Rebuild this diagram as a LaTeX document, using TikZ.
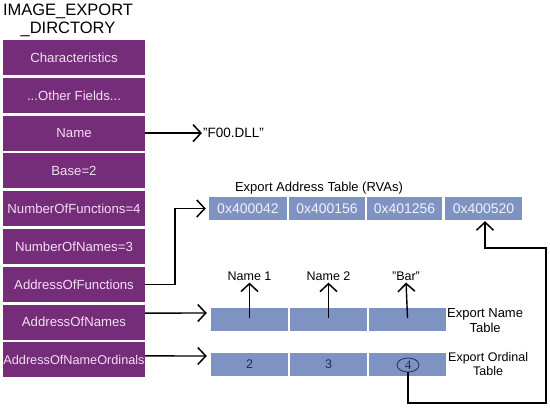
\documentclass[tikz,border=0pt]{standalone}
\usepackage{fontspec}
\setmainfont{Liberation Sans}
\newfontfamily\serifnum{Liberation Serif}
\usetikzlibrary{arrows.meta,shapes.geometric}
\definecolor{purp}{RGB}{117,45,122}
\definecolor{purptext}{RGB}{242,222,242}
\definecolor{bluebox}{RGB}{127,147,195}
\definecolor{bluetext}{RGB}{240,242,252}
\definecolor{darknum}{RGB}{40,40,80}
\tikzset{
  lbox/.style={fill=purp, text=purptext, minimum width=142pt, minimum height=35pt, inner sep=0pt,
    font=\fontsize{13.2}{15}\selectfont},
  hexbox/.style={fill=bluebox, text=bluetext, minimum height=23pt, inner sep=0pt,
    font=\fontsize{14}{16}\selectfont},
  tabbox/.style={fill=bluebox, text=darknum, minimum height=23pt, minimum width=77pt, inner sep=0pt,
    font=\fontsize{12.5}{14}\selectfont},
  lbl/.style={inner sep=0pt, font=\fontsize{13}{15}\selectfont},
  arr/.style={line width=1.4pt, -{Straight Barb[length=8pt,width=17pt,line width=1.5pt]}},
  conn/.style={line width=1.4pt}
}
\begin{document}
\begin{tikzpicture}[x=1pt,y=-1pt]
\useasboundingbox[fill=white] (0,0) rectangle (550,408);
% title
\node[inner sep=0pt, align=center, font=\fontsize{16.5}{17.5}\selectfont] (title) at (68,20.5) {IMAGE\_EXPORT\\\_DIRCTORY};
% left column
\node[lbox] (b0) at (74,57.5) {Characteristics};
\node[lbox] (b1) at (74,95.3) {...Other Fields...};
\node[lbox] (b2) at (74,133.1) {Name};
\node[lbox] (b3) at (74,170.9) {Base=2};
\node[lbox] (b4) at (74,208.7) {NumberOfFunctions=4};
\node[lbox] (b5) at (74,246.5) {NumberOfNames=3};
\node[lbox] (b6) at (74,284.3) {AddressOfFunctions};
\node[lbox] (b7) at (74,322.1) {AddressOfNames};
\node[lbox, font=\fontsize{12.7}{15}\selectfont] (b8) at (74,359.9) {AddressOfNameOrdinals};
% dll
\node[lbl, anchor=west, font=\fontsize{13.5}{15}\selectfont] (dll) at (203,133.1) {"F00.DLL"};
% export address table
\node[lbl] (eatl) at (319,188) {Export Address Table (RVAs)};
\node[hexbox, minimum width=78pt] (e1) at (248,208.5) {0x400042};
\node[hexbox, minimum width=76pt] (e2) at (327,208.5) {0x400156};
\node[hexbox, minimum width=75pt] (e3) at (404.5,208.5) {0x401256};
\node[hexbox, minimum width=77pt] (e4) at (483.5,208.5) {0x400520};
% export name table
\node[tabbox] (n1) at (249.5,319.5) {};
\node[tabbox] (n2) at (328.5,319.5) {};
\node[tabbox] (n3) at (407.5,319.5) {};
\node[lbl, font=\fontsize{12.5}{14}\selectfont] (nm1) at (249.5,276) {Name 1};
\node[lbl, font=\fontsize{12.5}{14}\selectfont] (nm2) at (328.5,276) {Name 2};
\node[lbl, font=\fontsize{12.5}{14}\selectfont] (nm3) at (406,276) {"Bar"};
\node[lbl, anchor=west, align=center, font=\fontsize{13}{15}\selectfont] (entl) at (447,320.5) {Export Name\\Table};
% export ordinal table
\node[tabbox] (o1) at (249.5,364.5) {2};
\node[tabbox] (o2) at (328.5,364.5) {3};
\node[tabbox] (o3) at (407.5,364.5) {};
\node[draw=darknum, line width=0.8pt, ellipse, minimum width=22pt, minimum height=14pt, inner sep=0pt,
  text=darknum, font=\serifnum\fontsize{13}{14}\selectfont] (c4) at (408,365) {4};
\node[lbl, anchor=west, align=center, font=\fontsize{12.5}{14}\selectfont] (eotl) at (448,364.5) {Export Ordinal\\Table};
% connectors
\draw[arr, shorten >=1pt] (b2.east) -- (dll.west);
\coordinate (k1) at (175,284.3);
\draw[arr, shorten >=3pt] (b6.east) -- (k1) |- (e1.west);
\draw[arr, shorten >=4pt] ([yshift=9pt]b7.east) -- ([yshift=6.5pt]n1.west);
\draw[arr, shorten >=4pt] ([yshift=4pt]b8.east) -- ([yshift=8.5pt]o1.west);
\draw[arr, shorten >=2pt] ([yshift=1.5pt]n1.center) -- (nm1.south);
\draw[arr, shorten >=2pt] ([yshift=1.5pt]n2.center) -- (nm2.south);
\draw[arr, shorten >=2pt] ([yshift=1.5pt]n3.center) -- (nm3.south);
\coordinate (r1) at (546,403);
\coordinate (r2) at (546,248);
\draw[arr, shorten >=1pt] (c4.south) |- (r1) -- (r2) -| ([xshift=1.5pt]e4.south);
\end{tikzpicture}
\end{document}
